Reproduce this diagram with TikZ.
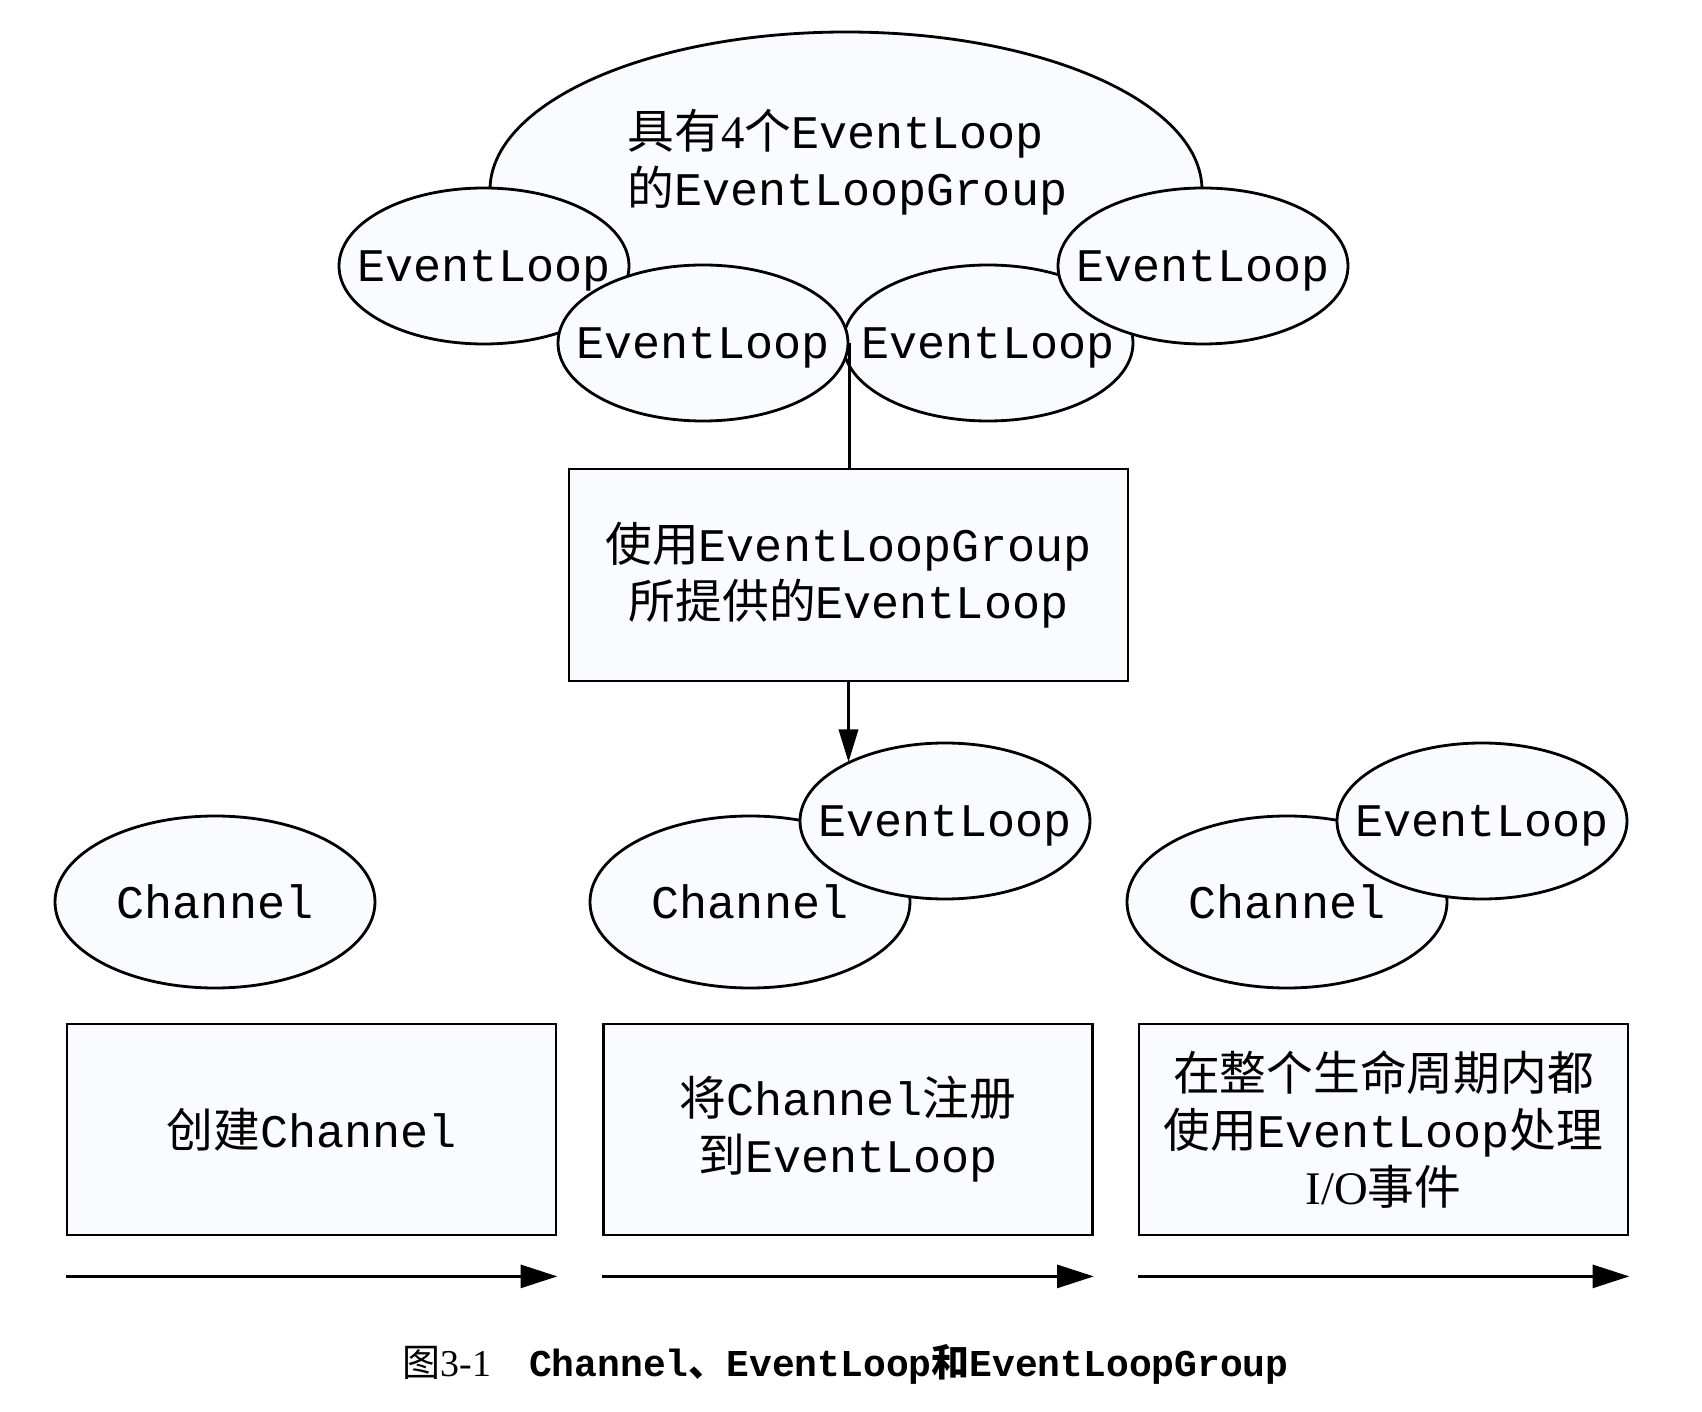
\documentclass[tikz,border=0pt]{standalone}
\usepackage{fontspec}
\setmainfont{Liberation Serif}
\setmonofont{Liberation Mono}
\newfontfamily\cjk{Noto Sans CJK SC}
\newcommand\zh[1]{{\cjk #1}}
\usetikzlibrary{shapes.geometric,arrows.meta}
\definecolor{paper}{RGB}{250,251,254}
\tikzset{
	oval/.style={ellipse, draw, fill=paper, line width=0.8pt, inner sep=0pt, text depth=0pt},
	loopoval/.style={oval, minimum width=2.9cm, minimum height=1.56cm},
	chanoval/.style={oval, minimum width=3.2cm, minimum height=1.72cm},
	stepbox/.style={draw, fill=paper, line width=0.8pt, align=center, minimum width=4.89cm, minimum height=2.11cm},
	flow/.style={line width=1pt, -{Triangle[length=10.5pt,width=6.5pt]}},
}
\begin{document}
\begin{tikzpicture}[font=\fontsize{13.3pt}{16.2pt}\selectfont\ttfamily]
	\useasboundingbox (0,0) rectangle (17.02,-14.12);
	\node[oval, minimum width=7.12cm, minimum height=3.16cm] (grp) at (8.46,-1.90) {};
	\node[anchor=west, align=left, inner sep=0pt] (grptxt) at (6.27,-1.62) {\zh{具有}{\rmfamily 4}\zh{个}EventLoop\\\zh{的}EventLoopGroup};
	\node[loopoval] (l1) at (4.84,-2.66) {\makebox[0pt]{EventLoop}};
	\node[loopoval] (l3) at (9.88,-3.43) {\makebox[0pt]{EventLoop}};
	\node[loopoval] (l2) at (7.03,-3.43) {\makebox[0pt]{EventLoop}};
	\node[loopoval] (l4) at (12.03,-2.66) {\makebox[0pt]{EventLoop}};
	\node[stepbox, minimum width=5.59cm, minimum height=2.12cm] (use) at (8.485,-5.75) {\zh{使用}EventLoopGroup\\\zh{所提供的}EventLoop};
	\node[chanoval] (c1) at (2.15,-9.02) {\makebox[0pt]{Channel}};
	\node[chanoval] (c2) at (7.50,-9.02) {\makebox[0pt]{Channel}};
	\node[loopoval] (e2) at (9.45,-8.21) {\makebox[0pt]{EventLoop}};
	\node[chanoval] (c3) at (12.87,-9.02) {\makebox[0pt]{Channel}};
	\node[loopoval] (e3) at (14.82,-8.21) {\makebox[0pt]{EventLoop}};
	\node[stepbox] (create) at (3.115,-11.295) {\zh{创建}Channel};
	\node[stepbox] (reg) at (8.48,-11.295) {\zh{将}Channel\zh{注册}\\\zh{到}EventLoop};
	\node[stepbox] (life) at (13.835,-11.295) {\zh{在整个生命周期内都}\\\zh{使用}EventLoop\zh{处理}\\{\rmfamily I/O}\zh{事件}};
	\draw[line width=0.8pt] (l2.east) -- (l2.east |- use.north);
	\draw[flow, line width=0.8pt, -{Triangle[length=9.3pt,width=5.5pt]}] (use.south) -- (use.south |- e2.149);
	\foreach \b in {create,reg,life}
		\draw[flow] ([yshift=-0.4cm]\b.south west) -- ([yshift=-0.4cm]\b.south east);
	\node[anchor=west, inner sep=0pt, font=\fontsize{10.8pt}{13pt}\selectfont\rmfamily] (cap) at (4.02,-13.64) {\zh{图}3-1\hspace{1em}{\ttfamily\bfseries Channel\zh{、}EventLoop\zh{和}EventLoopGroup}};
\end{tikzpicture}
\end{document}
